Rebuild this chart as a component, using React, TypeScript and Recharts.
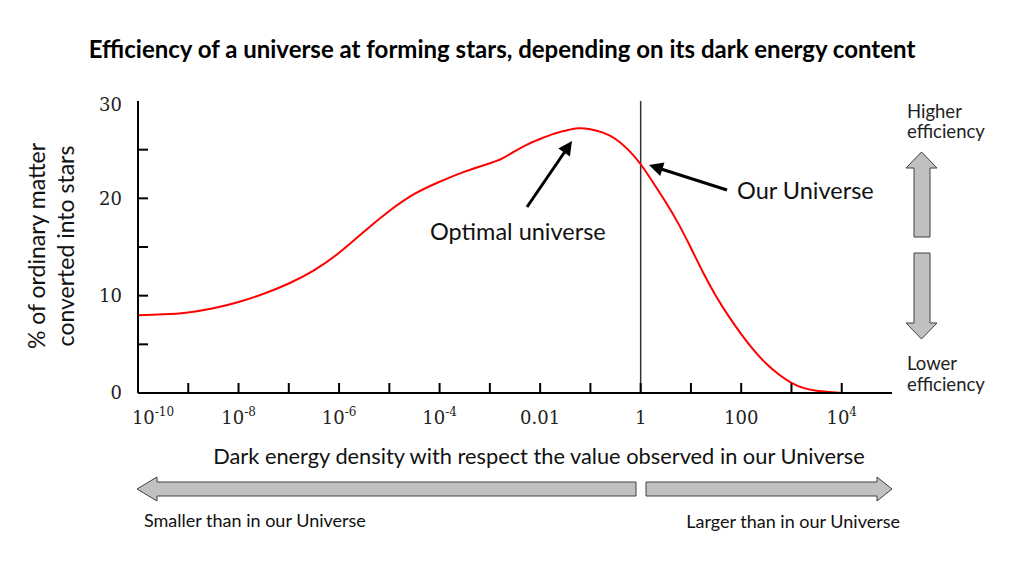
import React from 'react';
import { LineChart, Line, XAxis, YAxis, ReferenceLine } from 'recharts';

// log10 of dark energy density (relative to our Universe)
const logDensity = [-10, -9.5, -9, -8.5, -8, -7.5, -7, -6.5, -6, -5.5, -5, -4.5, -4, -3.5, -3, -2.75, -2.5, -2.25, -2, -1.75, -1.5, -1.25, -1, -0.75, -0.5, -0.25, 0, 0.25, 0.5, 0.75, 1, 1.25, 1.5, 1.75, 2, 2.25, 2.5, 2.75, 3, 3.25, 3.5, 3.75, 4];
// % of ordinary matter converted into stars
const starPercent = [8.0, 8.08, 8.28, 8.7, 9.35, 10.2, 11.25, 12.6, 14.4, 16.6, 18.7, 20.45, 21.7, 22.75, 23.6, 24.1, 24.85, 25.55, 26.1, 26.6, 26.95, 27.2, 27.1, 26.75, 26.1, 25.0, 23.5, 21.6, 19.6, 17.4, 14.9, 12.3, 9.95, 7.9, 6.05, 4.4, 3.0, 1.9, 1.05, 0.5, 0.22, 0.1, 0.0];

const xTickDecades = [-10, -9, -8, -7, -6, -5, -4, -3, -2, -1, 0, 1, 2, 3, 4, 5];
const xLabelDecades = [-10, -8, -6, -4, -2, 0, 2, 4];
const xLabelBase = ['10', '10', '10', '10', '0.01', '1', '100', '10'];
const xLabelExp = ['-10', '-8', '-6', '-4', '', '', '', '4'];
const yTicks = [0, 5, 10, 15, 20, 25, 30];
const yLabelTicks = [0, 10, 20, 30];

const data = logDensity.map((x, i) => ({ x, y: starPercent[i] }));

const SERIF = '"DejaVu Serif", serif';
const SANS = 'Lato, "Open Sans", sans-serif';

const BottomTick = (props: any) => {
  const { x, y, payload, index } = props;
  const v = payload.value;
  const idx = xLabelDecades.indexOf(v);
  const inner = index > 0 && index < xTickDecades.length - 1;
  return (
    <g>
      {inner && <line x1={x} x2={x} y1={y} y2={y - 10} stroke="#000" strokeWidth={2} />}
      {idx >= 0 && (
        <text x={x + (idx === 0 ? 15 : 0)} y={y + 31} textAnchor="middle" fontFamily={SERIF} fontSize={18} fill="#222">
          <tspan>{xLabelBase[idx]}</tspan>
          {xLabelExp[idx] && <tspan fontSize={12} dy={-8}>{xLabelExp[idx]}</tspan>}
        </text>
      )}
    </g>
  );
};

const TopTick = (props: any) => {
  const { x, y, index } = props;
  const inner = index > 0 && index < xTickDecades.length - 1;
  return <g>{inner && <line x1={x} x2={x} y1={y} y2={y + 10} stroke="#000" strokeWidth={2} />}</g>;
};

const LeftTick = (props: any) => {
  const { x, y, payload, index } = props;
  const v = payload.value;
  const inner = index > 0 && index < yTicks.length - 1;
  const show = yLabelTicks.indexOf(v) >= 0;
  return (
    <g>
      {inner && <line x1={x} x2={x + 10} y1={y} y2={y} stroke="#000" strokeWidth={2} />}
      {show && (
        <text x={x - 16} y={y + (index === yTicks.length - 1 ? 4 : 0)} dy="0.35em" textAnchor="end" fontFamily={SERIF} fontSize={18} fill="#222">
          {v}
        </text>
      )}
    </g>
  );
};

const RightTick = (props: any) => {
  const { x, y, index } = props;
  const inner = index > 0 && index < yTicks.length - 1;
  return <g>{inner && <line x1={x} x2={x - 10} y1={y} y2={y} stroke="#000" strokeWidth={2} />}</g>;
};

function arrowHead(x1: number, y1: number, x2: number, y2: number, len: number, half: number) {
  const dx = x2 - x1;
  const dy = y2 - y1;
  const d = Math.sqrt(dx * dx + dy * dy);
  const ux = dx / d;
  const uy = dy / d;
  const bx = x2 - ux * len;
  const by = y2 - uy * len;
  return `${x2},${y2} ${bx - uy * half},${by + ux * half} ${bx + uy * half},${by - ux * half}`;
}

const Overlay = () => (
  <svg width={1024} height={561} style={{ position: 'absolute', left: 0, top: 0, pointerEvents: 'none' }}>
    <text x={502} y={58} textAnchor="middle" fontFamily={SANS} fontWeight={700} fontSize={24} fill="#000">
      Efficiency of a universe at forming stars, depending on its dark energy content
    </text>
    <text transform="translate(45,246) rotate(-90)" textAnchor="middle" fontFamily={SANS} fontSize={23} fill="#111">
      % of ordinary  matter
    </text>
    <text transform="translate(74,246) rotate(-90)" textAnchor="middle" fontFamily={SANS} fontSize={23} fill="#111">
      converted into stars
    </text>

    <text x={430} y={240} fontFamily={SANS} fontSize={23.5} fill="#111">Optimal universe</text>
    <line x1={527} y1={207} x2={566} y2={150} stroke="#000" strokeWidth={3} />
    <polygon points={arrowHead(527, 207, 572, 141, 14, 7)} fill="#000" />

    <text x={737} y={199} fontFamily={SANS} fontSize={23.5} fill="#111">Our Universe</text>
    <line x1={727} y1={190} x2={658} y2={168} stroke="#000" strokeWidth={3} />
    <polygon points={arrowHead(727, 190, 649, 165, 14, 7)} fill="#000" />

    <text x={907} y={118} fontFamily={SANS} fontSize={18.5} fill="#222">Higher</text>
    <text x={907} y={138} fontFamily={SANS} fontSize={18.5} fill="#222">efficiency</text>
    <text x={907} y={370} fontFamily={SANS} fontSize={18.5} fill="#222">Lower</text>
    <text x={907} y={391} fontFamily={SANS} fontSize={18.5} fill="#222">efficiency</text>

    <polygon points="914,237 914,168 906,168 921.5,152 937,168 930,168 930,237" fill="#c0c0c0" stroke="#404040" strokeWidth={1} />
    <polygon points="914,253 930,253 930,323 937,323 921.5,339 906,323 914,323" fill="#c0c0c0" stroke="#404040" strokeWidth={1} />

    <text x={539} y={464} textAnchor="middle" fontFamily={SANS} fontSize={21.8} fill="#111">
      Dark energy density with respect the value observed in our Universe
    </text>
    <polygon points="137,489 157,477 157,482 636,482 636,496 157,496 157,501" fill="#c0c0c0" stroke="#404040" strokeWidth={1} />
    <polygon points="646,482 877,482 877,477 892,489 877,501 877,496 646,496" fill="#c0c0c0" stroke="#404040" strokeWidth={1} />
    <text x={144} y={527} fontFamily={SANS} fontSize={18} fill="#111">Smaller than in our Universe</text>
    <text x={900} y={528} textAnchor="end" fontFamily={SANS} fontSize={18} fill="#111">Larger than in our Universe</text>
  </svg>
);

export default function App() {
  return (
    <div style={{ position: 'absolute', left: 0, top: 0, width: 1024, height: 561, background: '#fff' }}>
      <LineChart width={1024} height={561} data={data} margin={{ top: 101, right: 132, bottom: 128, left: 0 }}>
        <XAxis xAxisId="b" dataKey="x" type="number" domain={[-10, 5]} ticks={xTickDecades} interval={0}
          orientation="bottom" height={40} tickSize={0} tickMargin={0} tickLine={false}
          axisLine={{ stroke: '#000', strokeWidth: 2 }} tick={<BottomTick />} allowDataOverflow />
        <XAxis xAxisId="t" dataKey="x" type="number" domain={[-10, 5]} ticks={xTickDecades} interval={0}
          orientation="top" height={0} tickSize={0} tickMargin={0} tickLine={false}
          axisLine={{ stroke: '#000', strokeWidth: 2 }} tick={<TopTick />} allowDataOverflow />
        <YAxis yAxisId="l" type="number" domain={[0, 30]} ticks={yTicks} interval={0}
          orientation="left" width={138} tickSize={0} tickMargin={0} tickLine={false}
          axisLine={{ stroke: '#000', strokeWidth: 2 }} tick={<LeftTick />} allowDataOverflow />
        <YAxis yAxisId="r" type="number" domain={[0, 30]} ticks={yTicks} interval={0}
          orientation="right" width={0} tickSize={0} tickMargin={0} tickLine={false}
          axisLine={{ stroke: '#000', strokeWidth: 2 }} tick={<RightTick />} allowDataOverflow />
        <ReferenceLine xAxisId="b" yAxisId="l" x={0} stroke="#333" strokeWidth={1.5} />
        <Line xAxisId="b" yAxisId="l" dataKey="y" type="natural" stroke="#ff0000" strokeWidth={2}
          dot={false} isAnimationActive={false} />
      </LineChart>
      <Overlay />
    </div>
  );
}
